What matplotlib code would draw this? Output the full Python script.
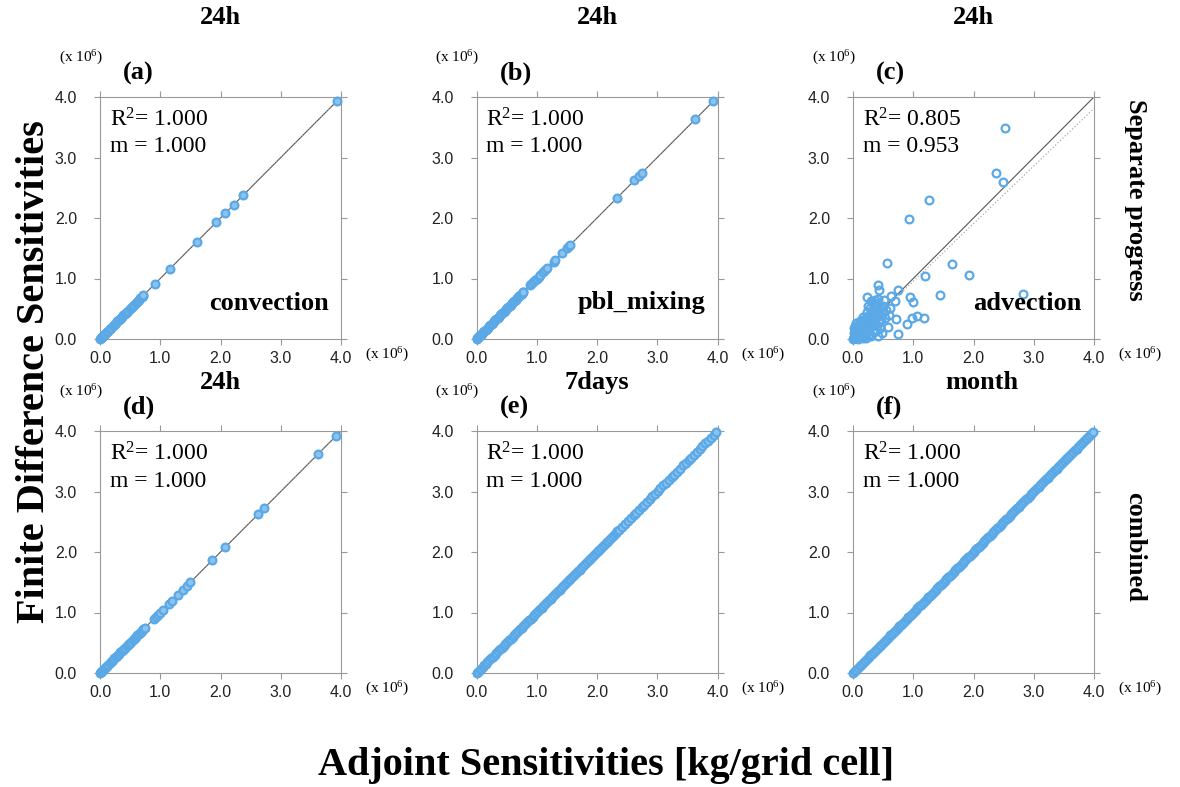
import matplotlib
matplotlib.use("Agg")
import matplotlib.pyplot as plt

plt.rcParams['mathtext.fontset'] = 'custom'
plt.rcParams['mathtext.rm'] = 'Liberation Serif'
plt.rcParams['mathtext.it'] = 'Liberation Serif:italic'
plt.rcParams['mathtext.bf'] = 'Liberation Serif:bold'

# ---- data (values in units of 10^6 kg/grid cell) ----
# panels a, b, d, e, f: finite difference equals adjoint (R2 = m = 1.000)
adj_a = [0.00, 0.01, 0.02, 0.03, 0.04, 0.05, 0.06, 0.08, 0.09, 0.11, 0.12, 0.14,
         0.16, 0.17, 0.19, 0.21, 0.23, 0.25, 0.27, 0.29, 0.31, 0.33, 0.35, 0.37,
         0.39, 0.41, 0.43, 0.45, 0.47, 0.49, 0.51, 0.53, 0.55, 0.57, 0.59, 0.61,
         0.63, 0.65, 0.67, 0.69, 0.71, 0.72, 0.91, 1.16, 1.61, 1.93, 2.08, 2.22,
         2.38, 3.93]
adj_b = [0.00, 0.01, 0.03, 0.04, 0.06, 0.07, 0.09, 0.11, 0.13, 0.15, 0.17, 0.19,
         0.21, 0.23, 0.25, 0.27, 0.29, 0.31, 0.33, 0.35, 0.37, 0.39, 0.41, 0.43,
         0.45, 0.47, 0.49, 0.51, 0.53, 0.55, 0.57, 0.59, 0.61, 0.63, 0.65, 0.67,
         0.69, 0.71, 0.73, 0.75, 0.77, 0.78, 0.89, 0.91, 0.94, 0.97, 1.00, 1.03,
         1.06, 1.10, 1.14, 1.17, 1.28, 1.31, 1.42, 1.50, 1.53, 1.56, 2.33, 2.62,
         2.70, 2.74, 3.63, 3.93]
adj_d = [0.00, 0.01, 0.02, 0.04, 0.05, 0.07, 0.09, 0.10, 0.12, 0.14, 0.16, 0.18,
         0.20, 0.22, 0.24, 0.26, 0.28, 0.30, 0.32, 0.34, 0.36, 0.38, 0.40, 0.42,
         0.44, 0.46, 0.48, 0.50, 0.52, 0.54, 0.56, 0.58, 0.60, 0.62, 0.64, 0.66,
         0.68, 0.70, 0.72, 0.75, 0.90, 0.93, 0.96, 1.00, 1.04, 1.14, 1.19, 1.29,
         1.37, 1.44, 1.50, 1.86, 2.08, 2.62, 2.72, 3.62, 3.92]
adj_e = [0.00, 0.02, 0.05, 0.07, 0.10, 0.13, 0.15, 0.18, 0.21, 0.24, 0.27, 0.30,
         0.33, 0.36, 0.39, 0.42, 0.45, 0.48, 0.51, 0.54, 0.57, 0.60, 0.63, 0.66,
         0.69, 0.72, 0.75, 0.78, 0.81, 0.84, 0.87, 0.90, 0.93, 0.96, 0.99, 1.02,
         1.05, 1.08, 1.11, 1.14, 1.17, 1.20, 1.23, 1.26, 1.29, 1.32, 1.35, 1.38,
         1.41, 1.44, 1.47, 1.50, 1.53, 1.56, 1.59, 1.62, 1.65, 1.68, 1.71, 1.74,
         1.77, 1.80, 1.83, 1.86, 1.89, 1.92, 1.95, 1.98, 2.01, 2.04, 2.07, 2.10,
         2.13, 2.16, 2.19, 2.22, 2.25, 2.28, 2.31, 2.34, 2.37, 2.42, 2.47, 2.52,
         2.56, 2.61, 2.65, 2.70, 2.74, 2.78, 2.83, 2.88, 2.92, 2.96, 3.01, 3.05,
         3.10, 3.14, 3.19, 3.24, 3.28, 3.33, 3.38, 3.43, 3.47, 3.52, 3.56, 3.61,
         3.66, 3.71, 3.75, 3.80, 3.84, 3.89, 3.94, 3.98]
adj_f = [0.00, 0.03, 0.05, 0.08, 0.11, 0.14, 0.17, 0.20, 0.23, 0.26, 0.29, 0.32,
         0.35, 0.38, 0.41, 0.44, 0.47, 0.50, 0.53, 0.56, 0.59, 0.62, 0.65, 0.68,
         0.71, 0.74, 0.77, 0.80, 0.83, 0.86, 0.89, 0.92, 0.95, 0.98, 1.01, 1.04,
         1.07, 1.10, 1.13, 1.16, 1.19, 1.22, 1.25, 1.28, 1.31, 1.34, 1.37, 1.40,
         1.43, 1.46, 1.49, 1.52, 1.55, 1.58, 1.61, 1.64, 1.67, 1.70, 1.73, 1.76,
         1.79, 1.82, 1.85, 1.88, 1.91, 1.94, 1.97, 2.00, 2.03, 2.06, 2.09, 2.12,
         2.15, 2.18, 2.21, 2.24, 2.27, 2.30, 2.33, 2.36, 2.39, 2.42, 2.45, 2.48,
         2.51, 2.54, 2.57, 2.60, 2.63, 2.66, 2.69, 2.72, 2.75, 2.78, 2.81, 2.84,
         2.87, 2.90, 2.93, 2.96, 2.99, 3.02, 3.05, 3.08, 3.11, 3.14, 3.17, 3.20,
         3.23, 3.26, 3.29, 3.32, 3.35, 3.38, 3.41, 3.44, 3.47, 3.50, 3.53, 3.56,
         3.59, 3.62, 3.65, 3.68, 3.71, 3.74, 3.77, 3.80, 3.83, 3.86, 3.89, 3.92,
         3.95, 3.98]

# panel c: advection, scattered
adj_c = [2.52, 2.37, 2.49, 1.26, 0.93, 0.57, 1.64, 1.19, 1.93, 2.82, 1.45, 0.41,
         0.43, 0.74, 0.95, 1.00, 0.63, 0.70, 0.62, 0.72, 0.89, 0.98, 1.06, 1.18,
         0.74, 0.24, 0.52, 0.37, 0.34, 0.28, 0.45, 0.23, 0.17, 0.11, 0.04, 0.30,
         0.45, 0.44, 0.38, 0.36, 0.40, 0.32, 0.30, 0.26, 0.22, 0.20, 0.18, 0.15,
         0.13, 0.10, 0.08, 0.06, 0.05, 0.03, 0.02, 0.01, 0.00, 0.02, 0.01, 0.03,
         0.05, 0.08, 0.12, 0.15, 0.18, 0.22, 0.25, 0.28, 0.32, 0.35, 0.38, 0.41,
         0.35, 0.40, 0.48, 0.50, 0.43, 0.27, 0.33, 0.24, 0.19, 0.14, 0.10, 0.06,
         0.09, 0.16, 0.20, 0.07, 0.04, 0.12, 0.16, 0.25, 0.30, 0.42, 0.36, 0.55,
         0.53, 0.48, 0.42, 0.58, 0.28, 0.60, 0.47, 0.36, 0.21, 0.33]
fd_c = [3.49, 2.75, 2.59, 2.30, 1.99, 1.25, 1.24, 1.04, 1.05, 0.75, 0.72, 0.90,
        0.81, 0.81, 0.70, 0.61, 0.71, 0.63, 0.52, 0.33, 0.25, 0.35, 0.38, 0.34,
        0.09, 0.70, 0.64, 0.64, 0.59, 0.51, 0.52, 0.45, 0.37, 0.29, 0.15, 0.05,
        0.18, 0.29, 0.60, 0.55, 0.57, 0.48, 0.42, 0.40, 0.35, 0.30, 0.25, 0.22,
        0.18, 0.15, 0.12, 0.10, 0.07, 0.05, 0.03, 0.01, 0.00, 0.10, 0.18, 0.22,
        0.26, 0.21, 0.08, 0.05, 0.12, 0.10, 0.15, 0.20, 0.25, 0.30, 0.35, 0.40,
        0.12, 0.22, 0.45, 0.55, 0.47, 0.33, 0.38, 0.26, 0.19, 0.13, 0.07, 0.03,
        0.00, 0.02, 0.07, 0.20, 0.12, 0.26, 0.31, 0.55, 0.62, 0.66, 0.45, 0.48,
        0.35, 0.10, 0.05, 0.20, 0.08, 0.40, 0.33, 0.23, 0.02, 0.14]

panels = [
    dict(x=adj_a, y=adj_a, tag='(a)', title='24h', proc='convection', r2='1.000', m=1.000),
    dict(x=adj_b, y=adj_b, tag='(b)', title='24h', proc='pbl_mixing', r2='1.000', m=1.000),
    dict(x=adj_c, y=fd_c, tag='(c)', title='24h', proc='advection', r2='0.805', m=0.953),
    dict(x=adj_d, y=adj_d, tag='(d)', title='24h', proc='', r2='1.000', m=1.000),
    dict(x=adj_e, y=adj_e, tag='(e)', title='7days', proc='', r2='1.000', m=1.000),
    dict(x=adj_f, y=adj_f, tag='(f)', title='month', proc='', r2='1.000', m=1.000),
]

W, H = 1180, 787
fig = plt.figure(figsize=(W / 100, H / 100), dpi=100)
serif = 'Liberation Serif'
blue = '#5aa9e6'


def ftext(x, y, s, **kw):
    # place text using pixel coordinates measured from the top-left corner
    fig.text(x / W, 1 - y / H, s, **kw)


lefts = [100, 476.5, 853]
tops = [97, 431]
aw, ah = 241, 242

for i, p in enumerate(panels):
    row, col = divmod(i, 3)
    left, top = lefts[col], tops[row]
    ax = fig.add_axes([left / W, 1 - (top + ah) / H, aw / W, ah / H])
    ax.plot([0, 4], [0, 4], color='#555555', lw=0.8, zorder=2)
    ax.plot([0, 4], [0, 4 * p['m']], color='#999999', lw=0.8, ls=(0, (1, 2)), zorder=2)
    diag = p['proc'] != 'advection'
    ax.plot(p['x'], p['y'], 'o', ms=5.6, mfc='#8cc3ee' if diag else 'none',
            mec=blue, mew=1.6, zorder=3, clip_on=False)
    ax.set_xlim(0, 4)
    ax.set_ylim(0, 4)
    ticks = [0, 1, 2, 3, 4]
    ax.set_xticks(ticks)
    ax.set_yticks(ticks)
    ax.set_xticklabels(['%.1f' % t for t in ticks])
    ax.set_yticklabels(['%.1f' % t for t in ticks])
    ax.tick_params(direction='out', length=4.5, width=0.8, color='#999999',
                   top=True, right=True, labelsize=11.5, labelcolor='#222222')
    ax.tick_params(axis='y', pad=12)
    ax.tick_params(axis='x', pad=4)
    for lab in ax.get_xticklabels() + ax.get_yticklabels():
        lab.set_family('Liberation Sans')
    for sp in ax.spines.values():
        sp.set_color('#999999')
        sp.set_linewidth(0.8)

    ax.text(10 / aw, 1 - 23 / ah, r'R$^2$= ' + p['r2'], transform=ax.transAxes,
            family=serif, fontsize=17, va='center', ha='left')
    ax.text(10 / aw, 1 - 50 / ah, 'm = %.3f' % p['m'], transform=ax.transAxes,
            family=serif, fontsize=17, va='center', ha='left')
    if p['proc']:
        ax.text(1 - 12 / aw, 36 / ah, p['proc'], transform=ax.transAxes,
                family=serif, fontsize=19, fontweight='bold', va='center', ha='right')

    # panel tag, scale labels, title
    ftext(left + 23, top - 24, p['tag'], family=serif, fontsize=19,
          fontweight='bold', va='center', ha='left')
    ftext(left + 3, top - 39, r'(x 10$^{6}$)', family=serif, fontsize=11,
          va='center', ha='right')
    ftext(left + aw + 24, top + ah + 16, r'(x 10$^{6}$)', family=serif, fontsize=11,
          va='center', ha='left')
    title_y = 18 if row == 0 else 383
    ftext(left + aw / 2 + (8 if p['title'] == 'month' else 0), title_y, p['title'],
          family=serif, fontsize=19, fontweight='bold', va='center', ha='center')

ftext(1135, 200, 'Separate progress', family=serif, fontsize=19, fontweight='bold',
      rotation=-90, va='center', ha='center')
ftext(1135, 547, 'combined', family=serif, fontsize=19, fontweight='bold',
      rotation=-90, va='center', ha='center')
ftext(35, 372, 'Finite Difference Sensitivities', family=serif, fontsize=29,
      fontweight='bold', rotation=90, va='center', ha='center')
ftext(606, 765, 'Adjoint Sensitivities [kg/grid cell]', family=serif, fontsize=29,
      fontweight='bold', va='center', ha='center')

fig.savefig('out.png', dpi=100)
